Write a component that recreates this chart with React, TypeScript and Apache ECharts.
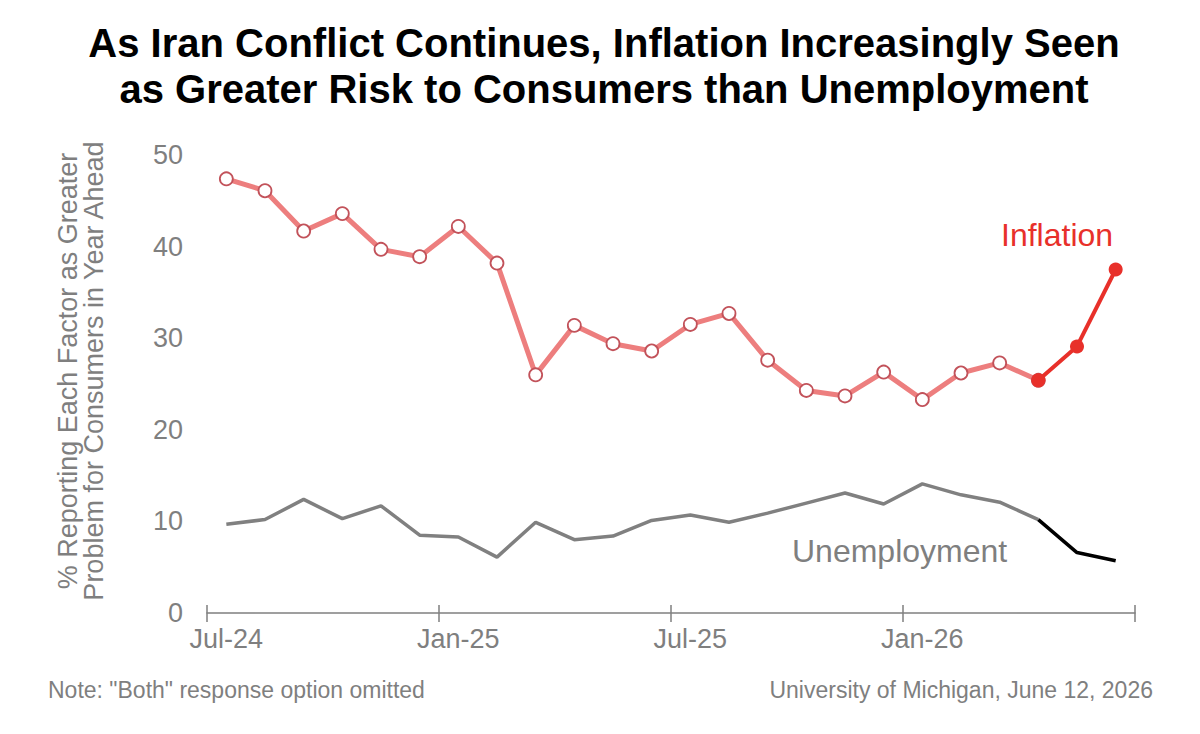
import React, { useEffect, useRef } from "react";
import * as echarts from "echarts";

const categories = [
  "Jul-24", "Aug-24", "Sep-24", "Oct-24", "Nov-24", "Dec-24",
  "Jan-25", "Feb-25", "Mar-25", "Apr-25", "May-25", "Jun-25",
  "Jul-25", "Aug-25", "Sep-25", "Oct-25", "Nov-25", "Dec-25",
  "Jan-26", "Feb-26", "Mar-26", "Apr-26", "May-26", "Jun-26",
];

const inflation = [
  47.4, 46.1, 41.7, 43.6, 39.7, 38.9, 42.2, 38.2, 26.0, 31.4, 29.4, 28.6,
  31.5, 32.7, 27.6, 24.3, 23.7, 26.3, 23.3, 26.2, 27.3, 25.4, 29.1, 37.5,
];

const unemployment = [
  9.7, 10.2, 12.4, 10.3, 11.7, 8.5, 8.3, 6.1, 9.9, 8.0, 8.4, 10.1,
  10.7, 9.9, 10.9, 12.0, 13.1, 11.9, 14.1, 12.9, 12.1, 10.2, 6.6, 5.7,
];

const recentStart = 21; // Apr-26: start of highlighted segment

const titleLines = [
  "As Iran Conflict Continues, Inflation Increasingly Seen",
  "as Greater Risk to Consumers than Unemployment",
];
const yAxisTitle = [
  "% Reporting Each Factor as Greater",
  "Problem for Consumers in Year Ahead",
];
const noteText = 'Note: "Both" response option omitted';
const sourceText = "University of Michigan, June 12, 2026";

const FONT = '"Liberation Sans", Arial, Helvetica, sans-serif';
const GRAY = "#7f7f7f";
const RED = "#e8302a";

const past = (arr: number[]) => arr.map((v, i) => (i <= recentStart ? v : null));
const recent = (arr: number[]) => arr.map((v, i) => (i >= recentStart ? v : null));

export default function App() {
  const ref = useRef<HTMLDivElement>(null);

  useEffect(() => {
    document.body.style.margin = "0";
    if (!ref.current) return;
    const chart = echarts.init(ref.current, null, { renderer: "svg" });
    const option: any = {
      animation: false,
      backgroundColor: "#ffffff",
      textStyle: { fontFamily: FONT },
      grid: { left: 207, right: 65, top: 155, bottom: 121, containLabel: false },
      xAxis: [
        {
          type: "category",
          data: categories,
          boundaryGap: true,
          axisLine: { show: true, lineStyle: { color: GRAY, width: 1.5 } },
          axisTick: { show: true, interval: 5, length: 9, lineStyle: { color: GRAY, width: 1.5 } },
          axisLabel: { interval: 5, color: GRAY, fontSize: 27, fontFamily: FONT, margin: 12 },
          splitLine: { show: false },
        },
        {
          type: "category",
          data: categories,
          boundaryGap: true,
          position: "bottom",
          offset: 0,
          axisLine: { show: false },
          axisTick: { show: true, inside: true, interval: 5, length: 8, lineStyle: { color: GRAY, width: 1.5 } },
          axisLabel: { show: false },
          splitLine: { show: false },
        },
      ],
      yAxis: {
        type: "value",
        min: 0,
        max: 50,
        interval: 10,
        axisLine: { show: false },
        axisTick: { show: false },
        splitLine: { show: false },
        axisLabel: { color: GRAY, fontSize: 27, fontFamily: FONT, margin: 24 },
      },
      series: [
        {
          name: "Unemployment",
          type: "line",
          data: past(unemployment),
          showSymbol: false,
          symbol: "none",
          lineStyle: { color: "#808080", width: 3.5 },
          itemStyle: { color: "#808080" },
          z: 2,
        },
        {
          name: "Unemployment (recent)",
          type: "line",
          data: recent(unemployment),
          showSymbol: false,
          symbol: "none",
          lineStyle: { color: "#000000", width: 3.5 },
          itemStyle: { color: "#000000" },
          z: 3,
        },
        {
          name: "Inflation",
          type: "line",
          data: past(inflation),
          symbol: "circle",
          symbolSize: 13,
          showSymbol: true,
          lineStyle: { color: "#ed7e7e", width: 5 },
          itemStyle: { color: "#ffffff", borderColor: "#c2525a", borderWidth: 1.8 },
          z: 4,
        },
        {
          name: "Inflation (recent)",
          type: "line",
          data: recent(inflation),
          symbol: "circle",
          symbolSize: 14,
          showSymbol: true,
          lineStyle: { color: RED, width: 4 },
          itemStyle: { color: RED, borderColor: RED, borderWidth: 0 },
          z: 5,
        },
      ],
      graphic: [
        {
          type: "text",
          x: 604,
          y: 43,
          style: {
            text: titleLines[0],
            fill: "#000",
            fontSize: 40,
            fontWeight: "bold",
            fontFamily: FONT,
            textAlign: "center",
            textVerticalAlign: "middle",
          },
        },
        {
          type: "text",
          x: 604,
          y: 89,
          style: {
            text: titleLines[1],
            fill: "#000",
            fontSize: 40,
            fontWeight: "bold",
            fontFamily: FONT,
            textAlign: "center",
            textVerticalAlign: "middle",
          },
        },
        {
          type: "text",
          x: 68,
          y: 371,
          rotation: Math.PI / 2,
          style: {
            text: yAxisTitle[0],
            fill: GRAY,
            fontSize: 27,
            fontFamily: FONT,
            textAlign: "center",
            textVerticalAlign: "middle",
          },
        },
        {
          type: "text",
          x: 94,
          y: 371,
          rotation: Math.PI / 2,
          style: {
            text: yAxisTitle[1],
            fill: GRAY,
            fontSize: 27,
            fontFamily: FONT,
            textAlign: "center",
            textVerticalAlign: "middle",
          },
        },
        {
          type: "text",
          x: 1001,
          y: 235,
          style: {
            text: "Inflation",
            fill: RED,
            fontSize: 32,
            fontFamily: FONT,
            textAlign: "left",
            textVerticalAlign: "middle",
          },
        },
        {
          type: "text",
          x: 792,
          y: 551,
          style: {
            text: "Unemployment",
            fill: GRAY,
            fontSize: 32,
            fontFamily: FONT,
            textAlign: "left",
            textVerticalAlign: "middle",
          },
        },
        {
          type: "text",
          x: 48,
          y: 690,
          style: {
            text: noteText,
            fill: GRAY,
            fontSize: 23,
            fontFamily: FONT,
            textAlign: "left",
            textVerticalAlign: "middle",
          },
        },
        {
          type: "text",
          x: 1153,
          y: 690,
          style: {
            text: sourceText,
            fill: GRAY,
            fontSize: 23,
            fontFamily: FONT,
            textAlign: "right",
            textVerticalAlign: "middle",
          },
        },
      ],
    };
    chart.setOption(option);
    return () => chart.dispose();
  }, []);

  return <div ref={ref} style={{ width: 1200, height: 734 }} />;
}
